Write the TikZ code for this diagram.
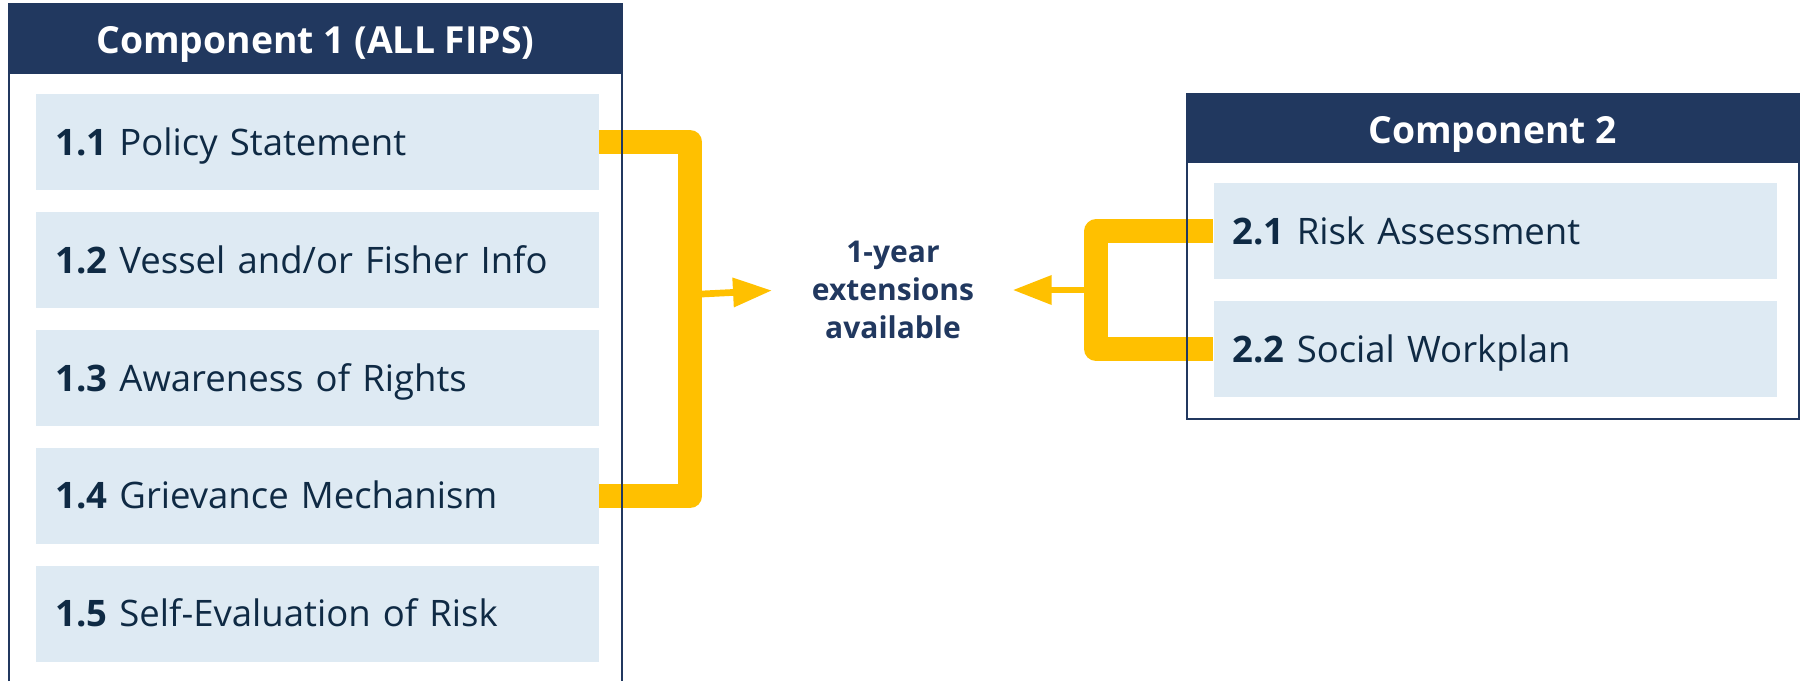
\documentclass[tikz,border=0pt]{standalone}
\usepackage{fontspec}
\setmainfont{Open Sans}
\usetikzlibrary{arrows.meta}
\definecolor{navy}{HTML}{21385F}
\definecolor{itemfill}{HTML}{DEEAF3}
\definecolor{gold}{HTML}{FFC000}
\definecolor{itemtext}{HTML}{0F2A44}
\begin{document}
\begin{tikzpicture}[x=1pt,y=-1pt,
  item/.style={fill=itemfill, minimum width=563pt, minimum height=96pt, inner sep=0pt,
    text width=525pt, align=left, anchor=north west, text=itemtext,
    text height=30pt, text depth=4pt,
    font=\fontsize{36.5}{42}\selectfont},
  header/.style={fill=navy, anchor=north west, inner sep=0pt, text=white,
    text height=34pt, text depth=4pt,
    font=\fontsize{37.3}{42}\selectfont\bfseries},
  border/.style={draw=navy, line width=2pt},
  bar/.style={draw=gold, line width=24pt, line join=round},
  arr/.style={draw=gold, line width=6.7pt, -{Triangle[length=39pt,width=28pt]}},
  mid/.style={align=center, text=navy, inner sep=0pt,
    font=\fontsize{30}{38}\selectfont\bfseries}]
\useasboundingbox (0,0) rectangle (1803,681);
% Component 1
\node[header, minimum width=613.7pt, minimum height=70pt] (h1) at (8.3,3.3) {Component 1 (ALL FIPS)};
\node[item] (l1) at (36,94) {\textbf{1.1} Policy Statement};
\node[item] (l2) at (36,211.9) {\textbf{1.2} Vessel and/or Fisher Info};
\node[item] (l3) at (36,329.8) {\textbf{1.3} Awareness of Rights};
\node[item] (l4) at (36,447.7) {\textbf{1.4} Grievance Mechanism};
\node[item] (l5) at (36,565.6) {\textbf{1.5} Self-Evaluation of Risk};
% Component 2
\node[header, minimum width=613pt, minimum height=69pt] (h2) at (1186,93.3) {Component 2};
\node[item] (r1) at (1213.3,183) {\textbf{2.1} Risk Assessment};
\node[item] (r2) at (1213.3,301) {\textbf{2.2} Social Workplan};
% middle text
\node[mid] (ext) at (893,290) {1-year\\extensions\\available};
% brackets
\draw[bar] (l1.east) -- ++(91,0) |- (l4.east);
\draw[bar] (r1.west) -- ++(-117,0) |- (r2.west);
% arrows
\coordinate (la) at (702,294);
\coordinate (lt) at (772,290.5);
\coordinate (ra) at (1084,290);
\coordinate (rt) at (1012.7,290);
\draw[arr] (la) -- (lt);
\draw[arr] (ra) -- (rt);
% borders
\draw[border] (9,681) -- (9,3.5) -- (621.5,3.5) -- (621.5,681);
\draw[border] (1186.5,93.5) rectangle (1798.5,418.5);
\end{tikzpicture}
\end{document}
